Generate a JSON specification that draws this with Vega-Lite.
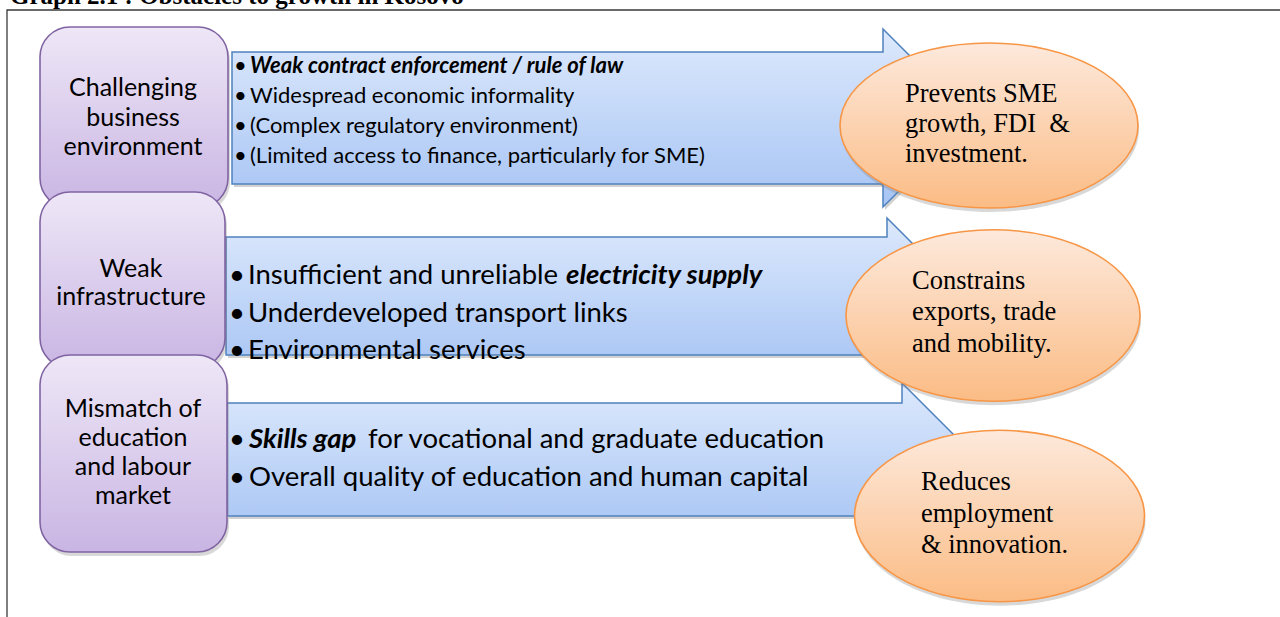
{
  "$schema": "https://vega.github.io/schema/vega-lite/v6.json",
  "width": 1280,
  "height": 617,
  "padding": 0,
  "autosize": {"type": "fit", "contains": "padding"},
  "background": "#ffffff",
  "config": {"view": {"stroke": null}},
  "resolve": {"scale": {"x": "independent", "y": "independent", "shape": "independent", "size": "independent"}},
  "datasets": {
    "frame": [{"left": 7, "top": 10, "right": 1400, "bottom": 700}],
    "title": [{"label": "Graph 2.1 : Obstacles to growth in Kosovo", "px": 10, "py": 4}],
    "arrows": [
      {"obstacle": "business", "cx": 600, "cy": 118},
      {"obstacle": "infrastructure", "cx": 600, "cy": 296},
      {"obstacle": "education", "cx": 600, "cy": 460}
    ],
    "boxes": [
      {"cause": "business", "left": 40, "right": 228, "top": 27, "bottom": 208},
      {"cause": "infrastructure", "left": 40, "right": 225, "top": 192, "bottom": 368},
      {"cause": "education", "left": 40, "right": 227, "top": 355, "bottom": 552}
    ],
    "boxText": [
      {"cause": "business", "label": "Challenging", "px": 133, "py": 96},
      {"cause": "business", "label": "business", "px": 133, "py": 126},
      {"cause": "business", "label": "environment", "px": 133, "py": 155},
      {"cause": "infrastructure", "label": "Weak", "px": 131, "py": 277},
      {"cause": "infrastructure", "label": "infrastructure", "px": 131, "py": 305},
      {"cause": "education", "label": "Mismatch of", "px": 133, "py": 417},
      {"cause": "education", "label": "education", "px": 133, "py": 446},
      {"cause": "education", "label": "and labour", "px": 133, "py": 475},
      {"cause": "education", "label": "market", "px": 133, "py": 504}
    ],
    "details": [
      {"group": "small", "emphasis": "none", "label": "•", "px": 234, "py": 73},
      {"group": "small", "emphasis": "none", "label": "•", "px": 234, "py": 103},
      {"group": "small", "emphasis": "none", "label": "•", "px": 234, "py": 133},
      {"group": "small", "emphasis": "none", "label": "•", "px": 234, "py": 163},
      {"group": "small", "emphasis": "bold", "label": "Weak contract enforcement / rule of law", "px": 250, "py": 73},
      {"group": "small", "emphasis": "none", "label": "Widespread economic informality", "px": 250, "py": 103},
      {"group": "small", "emphasis": "none", "label": "(Complex regulatory environment)", "px": 250, "py": 133},
      {"group": "small", "emphasis": "none", "label": "(Limited access to finance, particularly for SME)", "px": 250, "py": 163},
      {"group": "big", "emphasis": "none", "label": "•", "px": 229, "py": 284},
      {"group": "big", "emphasis": "none", "label": "•", "px": 229, "py": 322},
      {"group": "big", "emphasis": "none", "label": "•", "px": 229, "py": 359},
      {"group": "big", "emphasis": "none", "label": "•", "px": 229, "py": 448},
      {"group": "big", "emphasis": "none", "label": "•", "px": 229, "py": 486},
      {"group": "big", "emphasis": "none", "label": "Insufficient and unreliable", "px": 248, "py": 284},
      {"group": "big", "emphasis": "bold", "label": "electricity supply", "px": 566, "py": 284},
      {"group": "big", "emphasis": "none", "label": "Underdeveloped transport links", "px": 248, "py": 322},
      {"group": "big", "emphasis": "none", "label": "Environmental services", "px": 248, "py": 359},
      {"group": "big", "emphasis": "bold", "label": "Skills gap", "px": 249, "py": 448},
      {"group": "big", "emphasis": "none", "label": "for vocational and graduate education", "px": 368, "py": 448},
      {"group": "big", "emphasis": "none", "label": "Overall quality of education and human capital", "px": 249, "py": 486}
    ],
    "ellipses": [
      {"effect": "SME", "cx": 989, "cy": 125.5},
      {"effect": "trade", "cx": 993, "cy": 315.5},
      {"effect": "employment", "cx": 999.5, "cy": 516}
    ],
    "effectText": [
      {"label": "Prevents SME", "px": 905, "py": 102},
      {"label": "growth, FDI \u00a0&", "px": 905, "py": 132},
      {"label": "investment.", "px": 905, "py": 162},
      {"label": "Constrains", "px": 912, "py": 289},
      {"label": "exports, trade", "px": 912, "py": 320},
      {"label": "and mobility.", "px": 912, "py": 352},
      {"label": "Reduces", "px": 921, "py": 490},
      {"label": "employment", "px": 921, "py": 522},
      {"label": "& innovation.", "px": 921, "py": 553}
    ]
  },
  "layer": [
    {
      "data": {"name": "frame"},
      "mark": {"type": "rect", "fill": null, "fillOpacity": 0, "stroke": "#3a3a3a", "strokeWidth": 1.3, "clip": true},
      "encoding": {
        "x": {"field": "left", "type": "quantitative", "scale": {"domain": [0, 1280], "nice": false, "zero": false}, "axis": null},
        "x2": {"field": "right"},
        "y": {"field": "top", "type": "quantitative", "scale": {"domain": [0, 617], "nice": false, "zero": false, "reverse": true}, "axis": null},
        "y2": {"field": "bottom"}
      }
    },
    {
      "data": {"name": "title"},
      "mark": {"type": "text", "align": "left", "baseline": "alphabetic", "font": "Liberation Serif", "fontWeight": "bold", "fontSize": 25, "color": "#000000", "clip": true},
      "encoding": {
        "x": {"field": "px", "type": "quantitative", "scale": {"domain": [0, 1280], "nice": false, "zero": false}, "axis": null},
        "y": {"field": "py", "type": "quantitative", "scale": {"domain": [0, 617], "nice": false, "zero": false, "reverse": true}, "axis": null},
        "text": {"field": "label"}
      }
    },
    {
      "data": {"name": "arrows"},
      "mark": {"type": "point", "filled": true, "opacity": 1, "fill": "#7f7f7f", "fillOpacity": 0.35, "strokeWidth": 0, "size": 640000},
      "encoding": {
        "x": {"field": "cx", "type": "quantitative", "scale": {"domain": [-2, 1278], "nice": false, "zero": false}, "axis": null},
        "y": {"field": "cy", "type": "quantitative", "scale": {"domain": [-3, 614], "nice": false, "zero": false, "reverse": true}, "axis": null},
        "shape": {
          "field": "obstacle", "type": "nominal", "legend": null,
          "scale": {"domain": ["business", "infrastructure", "education"], "range": [
            "M -0.92 -0.165 L 0.7075 -0.165 L 0.7075 -0.2225 L 0.93 0 L 0.7075 0.2225 L 0.7075 0.165 L -0.92 0.165 Z",
            "M -0.935 -0.1475 L 0.7175 -0.1475 L 0.7175 -0.195 L 0.9125 0 L 0.7175 0.195 L 0.7175 0.1475 L -0.935 0.1475 Z",
            "M -0.9325 -0.1425 L 0.755 -0.1425 L 0.755 -0.1925 L 0.9475 0 L 0.755 0.1925 L 0.755 0.14 L -0.9325 0.14 Z"
          ]}
        }
      }
    },
    {
      "data": {"name": "arrows"},
      "mark": {
        "type": "point",
        "filled": true,
        "opacity": 1,
        "fill": {"gradient": "linear", "x1": 0, "y1": 0, "x2": 0, "y2": 1, "stops": [{"offset": 0, "color": "#dde9fc"}, {"offset": 1, "color": "#a6c4f4"}]},
        "fillOpacity": 1,
        "stroke": "#4f81bd",
        "strokeWidth": 1.5,
        "strokeOpacity": 1,
        "size": 640000
      },
      "encoding": {
        "x": {"field": "cx", "type": "quantitative", "scale": {"domain": [0, 1280], "nice": false, "zero": false}, "axis": null},
        "y": {"field": "cy", "type": "quantitative", "scale": {"domain": [0, 617], "nice": false, "zero": false, "reverse": true}, "axis": null},
        "shape": {
          "field": "obstacle", "type": "nominal", "legend": null,
          "scale": {"domain": ["business", "infrastructure", "education"], "range": [
            "M -0.92 -0.165 L 0.7075 -0.165 L 0.7075 -0.2225 L 0.93 0 L 0.7075 0.2225 L 0.7075 0.165 L -0.92 0.165 Z",
            "M -0.935 -0.1475 L 0.7175 -0.1475 L 0.7175 -0.195 L 0.9125 0 L 0.7175 0.195 L 0.7175 0.1475 L -0.935 0.1475 Z",
            "M -0.9325 -0.1425 L 0.755 -0.1425 L 0.755 -0.1925 L 0.9475 0 L 0.755 0.1925 L 0.755 0.14 L -0.9325 0.14 Z"
          ]}
        }
      }
    },
    {
      "data": {"name": "details"},
      "transform": [{"filter": "datum.group === 'small' && datum.emphasis === 'none'"}],
      "mark": {"type": "text", "align": "left", "baseline": "alphabetic", "font": "Lato", "fontSize": 22, "color": "#000000"},
      "encoding": {
        "x": {"field": "px", "type": "quantitative", "scale": {"domain": [0, 1280], "nice": false, "zero": false}, "axis": null},
        "y": {"field": "py", "type": "quantitative", "scale": {"domain": [0, 617], "nice": false, "zero": false, "reverse": true}, "axis": null},
        "text": {"field": "label"}
      }
    },
    {
      "data": {"name": "details"},
      "transform": [{"filter": "datum.group === 'small' && datum.emphasis === 'bold'"}],
      "mark": {"type": "text", "align": "left", "baseline": "alphabetic", "font": "Lato", "fontSize": 22, "fontWeight": "bold", "fontStyle": "italic", "color": "#000000"},
      "encoding": {
        "x": {"field": "px", "type": "quantitative", "scale": {"domain": [0, 1280], "nice": false, "zero": false}, "axis": null},
        "y": {"field": "py", "type": "quantitative", "scale": {"domain": [0, 617], "nice": false, "zero": false, "reverse": true}, "axis": null},
        "text": {"field": "label"}
      }
    },
    {
      "data": {"name": "details"},
      "transform": [{"filter": "datum.group === 'big' && datum.emphasis === 'none'"}],
      "mark": {"type": "text", "align": "left", "baseline": "alphabetic", "font": "Lato", "fontSize": 27.5, "color": "#000000"},
      "encoding": {
        "x": {"field": "px", "type": "quantitative", "scale": {"domain": [0, 1280], "nice": false, "zero": false}, "axis": null},
        "y": {"field": "py", "type": "quantitative", "scale": {"domain": [0, 617], "nice": false, "zero": false, "reverse": true}, "axis": null},
        "text": {"field": "label"}
      }
    },
    {
      "data": {"name": "details"},
      "transform": [{"filter": "datum.group === 'big' && datum.emphasis === 'bold'"}],
      "mark": {"type": "text", "align": "left", "baseline": "alphabetic", "font": "Lato", "fontSize": 27.5, "fontWeight": "bold", "fontStyle": "italic", "color": "#000000"},
      "encoding": {
        "x": {"field": "px", "type": "quantitative", "scale": {"domain": [0, 1280], "nice": false, "zero": false}, "axis": null},
        "y": {"field": "py", "type": "quantitative", "scale": {"domain": [0, 617], "nice": false, "zero": false, "reverse": true}, "axis": null},
        "text": {"field": "label"}
      }
    },
    {
      "data": {"name": "boxes"},
      "mark": {"type": "rect", "cornerRadius": 30, "fill": "#7f7f7f", "fillOpacity": 0.3, "strokeWidth": 0},
      "encoding": {
        "x": {"field": "left", "type": "quantitative", "scale": {"domain": [-2, 1278], "nice": false, "zero": false}, "axis": null},
        "x2": {"field": "right"},
        "y": {"field": "top", "type": "quantitative", "scale": {"domain": [-4, 613], "nice": false, "zero": false, "reverse": true}, "axis": null},
        "y2": {"field": "bottom"}
      }
    },
    {
      "data": {"name": "boxes"},
      "mark": {
        "type": "rect",
        "cornerRadius": 30,
        "fill": {"gradient": "linear", "x1": 0, "y1": 0, "x2": 0, "y2": 1, "stops": [{"offset": 0, "color": "#eee7f7"}, {"offset": 1, "color": "#c9b5e3"}]},
        "fillOpacity": 1,
        "stroke": "#8064a2",
        "strokeWidth": 1.6
      },
      "encoding": {
        "x": {"field": "left", "type": "quantitative", "scale": {"domain": [0, 1280], "nice": false, "zero": false}, "axis": null},
        "x2": {"field": "right"},
        "y": {"field": "top", "type": "quantitative", "scale": {"domain": [0, 617], "nice": false, "zero": false, "reverse": true}, "axis": null},
        "y2": {"field": "bottom"}
      }
    },
    {
      "data": {"name": "boxText"},
      "mark": {"type": "text", "align": "center", "baseline": "alphabetic", "font": "Lato", "fontSize": 25, "color": "#000000"},
      "encoding": {
        "x": {"field": "px", "type": "quantitative", "scale": {"domain": [0, 1280], "nice": false, "zero": false}, "axis": null},
        "y": {"field": "py", "type": "quantitative", "scale": {"domain": [0, 617], "nice": false, "zero": false, "reverse": true}, "axis": null},
        "text": {"field": "label"}
      }
    },
    {
      "data": {"name": "ellipses"},
      "mark": {"type": "point", "filled": true, "opacity": 1, "fill": "#7f7f7f", "fillOpacity": 0.3, "strokeWidth": 0},
      "encoding": {
        "x": {"field": "cx", "type": "quantitative", "scale": {"domain": [-1, 1279], "nice": false, "zero": false}, "axis": null},
        "y": {"field": "cy", "type": "quantitative", "scale": {"domain": [-4, 613], "nice": false, "zero": false, "reverse": true}, "axis": null},
        "shape": {
          "field": "effect", "type": "nominal", "legend": null,
          "scale": {"domain": ["SME", "trade", "employment"], "range": [
            "M -1 0 C -1 -0.306 -0.5523 -0.554 0 -0.554 C 0.5523 -0.554 1 -0.306 1 0 C 1 0.306 0.5523 0.554 0 0.554 C -0.5523 0.554 -1 0.306 -1 0 Z",
            "M -1 0 C -1 -0.322 -0.5523 -0.583 0 -0.583 C 0.5523 -0.583 1 -0.322 1 0 C 1 0.322 0.5523 0.583 0 0.583 C -0.5523 0.583 -1 0.322 -1 0 Z",
            "M -1 0 C -1 -0.326 -0.5523 -0.591 0 -0.591 C 0.5523 -0.591 1 -0.326 1 0 C 1 0.326 0.5523 0.591 0 0.591 C -0.5523 0.591 -1 0.326 -1 0 Z"
          ]}
        },
        "size": {
          "field": "effect", "type": "nominal", "legend": null,
          "scale": {"domain": ["SME", "trade", "employment"], "range": [88804, 84100, 78961]}
        }
      }
    },
    {
      "data": {"name": "ellipses"},
      "mark": {
        "type": "point",
        "filled": true,
        "opacity": 1,
        "fill": {"gradient": "linear", "x1": 0, "y1": 0, "x2": 0, "y2": 1, "stops": [{"offset": 0, "color": "#fde9dc"}, {"offset": 1, "color": "#fbbc85"}]},
        "fillOpacity": 1,
        "stroke": "#f79646",
        "strokeWidth": 1.6,
        "strokeOpacity": 1
      },
      "encoding": {
        "x": {"field": "cx", "type": "quantitative", "scale": {"domain": [0, 1280], "nice": false, "zero": false}, "axis": null},
        "y": {"field": "cy", "type": "quantitative", "scale": {"domain": [0, 617], "nice": false, "zero": false, "reverse": true}, "axis": null},
        "shape": {
          "field": "effect", "type": "nominal", "legend": null,
          "scale": {"domain": ["SME", "trade", "employment"], "range": [
            "M -1 0 C -1 -0.306 -0.5523 -0.554 0 -0.554 C 0.5523 -0.554 1 -0.306 1 0 C 1 0.306 0.5523 0.554 0 0.554 C -0.5523 0.554 -1 0.306 -1 0 Z",
            "M -1 0 C -1 -0.322 -0.5523 -0.583 0 -0.583 C 0.5523 -0.583 1 -0.322 1 0 C 1 0.322 0.5523 0.583 0 0.583 C -0.5523 0.583 -1 0.322 -1 0 Z",
            "M -1 0 C -1 -0.326 -0.5523 -0.591 0 -0.591 C 0.5523 -0.591 1 -0.326 1 0 C 1 0.326 0.5523 0.591 0 0.591 C -0.5523 0.591 -1 0.326 -1 0 Z"
          ]}
        },
        "size": {
          "field": "effect", "type": "nominal", "legend": null,
          "scale": {"domain": ["SME", "trade", "employment"], "range": [88804, 84100, 78961]}
        }
      }
    },
    {
      "data": {"name": "effectText"},
      "mark": {"type": "text", "align": "left", "baseline": "alphabetic", "font": "Liberation Serif", "fontSize": 26.5, "color": "#000000"},
      "encoding": {
        "x": {"field": "px", "type": "quantitative", "scale": {"domain": [0, 1280], "nice": false, "zero": false}, "axis": null},
        "y": {"field": "py", "type": "quantitative", "scale": {"domain": [0, 617], "nice": false, "zero": false, "reverse": true}, "axis": null},
        "text": {"field": "label"}
      }
    }
  ]
}
